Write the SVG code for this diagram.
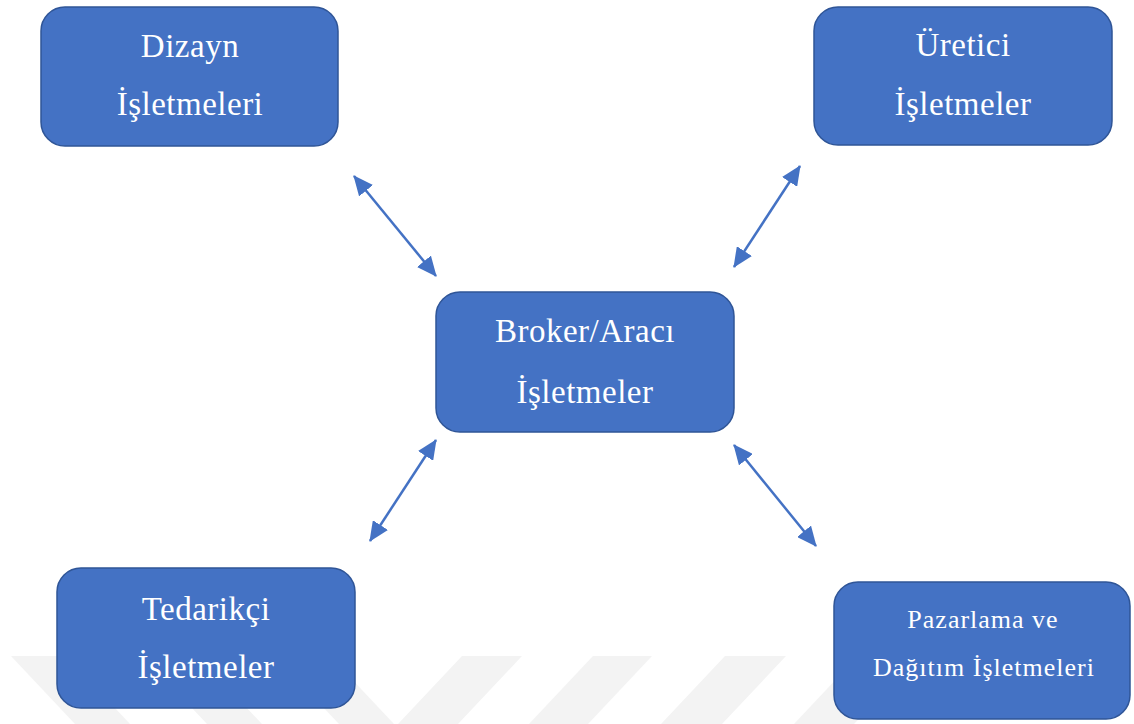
<svg xmlns="http://www.w3.org/2000/svg" width="1134" height="724" viewBox="0 0 1134 724">
  <style>
    .box { fill: #4472c4; stroke: #2f5597; stroke-width: 1.5; }
    .lbl { fill: #ffffff; font-family: "Liberation Serif", "Times New Roman", serif; font-size: 33px; text-anchor: middle; letter-spacing: 0.5px; }
    .lbl.small { font-size: 26px; letter-spacing: 1px; }
    .link { stroke: #4472c4; stroke-width: 2.5; fill: none; marker-start: url(#head); marker-end: url(#head); }
    .wm { fill: #f3f3f3; }
  </style>
  <defs>
    <marker id="head" viewBox="0 0 20 18" refX="19" refY="9" markerWidth="20" markerHeight="18" orient="auto-start-reverse" markerUnits="userSpaceOnUse">
      <path d="M0,0 L20,9 L0,18 Z" fill="#4472c4"/>
    </marker>
  </defs>

  <rect width="1134" height="724" fill="#ffffff"/>

  <!-- faint background stripes along the bottom edge -->
  <g id="background-stripes">
    <polygon class="wm" points="11,656 66,656 130,724 75,724"/>
    <polygon class="wm" points="143,656 198,656 262,724 207,724"/>
    <polygon class="wm" points="275,656 330,656 394,724 339,724"/>
    <polygon class="wm" points="462,656 522,656 458,724 398,724"/>
    <polygon class="wm" points="593,656 652,656 588,724 529,724"/>
    <polygon class="wm" points="725,656 786,656 722,724 661,724"/>
    <polygon class="wm" points="858,656 918,656 854,724 794,724"/>
  </g>

  <!-- connectors -->
  <g id="connectors">
    <line class="link" x1="354" y1="176" x2="436" y2="276"/>
    <line class="link" x1="800" y1="166" x2="734" y2="267"/>
    <line class="link" x1="436" y1="440" x2="370" y2="541"/>
    <line class="link" x1="734" y1="445" x2="816" y2="546"/>
  </g>

  <g id="dizayn">
    <rect class="box" x="41" y="7" width="297" height="139" rx="24"/>
    <text class="lbl" x="190" y="57">Dizayn</text>
    <text class="lbl" x="190" y="115">İşletmeleri</text>
  </g>

  <g id="uretici">
    <rect class="box" x="814" y="7" width="298" height="138" rx="24"/>
    <text class="lbl" x="963" y="56">Üretici</text>
    <text class="lbl" x="963" y="115">İşletmeler</text>
  </g>

  <g id="broker">
    <rect class="box" x="436" y="292" width="298" height="140" rx="24"/>
    <text class="lbl" x="585" y="342">Broker/Aracı</text>
    <text class="lbl" x="585" y="403">İşletmeler</text>
  </g>

  <g id="tedarikci">
    <rect class="box" x="57" y="568" width="298" height="140" rx="24"/>
    <text class="lbl" x="206" y="620">Tedarikçi</text>
    <text class="lbl" x="206" y="678">İşletmeler</text>
  </g>

  <g id="pazarlama">
    <rect class="box" x="834" y="582" width="296" height="137" rx="24"/>
    <text class="lbl small" x="983" y="628">Pazarlama ve</text>
    <text class="lbl small" x="984" y="676">Dağıtım İşletmeleri</text>
  </g>
</svg>
